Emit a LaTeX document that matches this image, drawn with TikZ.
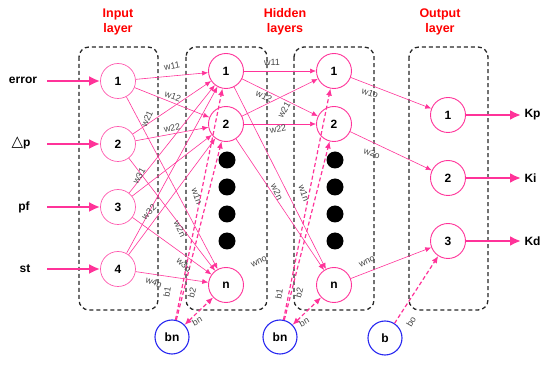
\documentclass[tikz,border=0pt]{standalone}
\usepackage{fontspec}
\setmainfont{Liberation Sans}
\newfontfamily\djv{DejaVu Sans}
\usetikzlibrary{arrows.meta}
\definecolor{pk}{RGB}{255,51,153}
\definecolor{pkl}{RGB}{255,90,175}
\definecolor{bl}{RGB}{40,40,240}
\definecolor{wg}{RGB}{70,70,70}
\begin{document}
\begin{tikzpicture}[x=1pt,y=-1pt,
  neuron/.style={circle,draw=pk,line width=0.9pt,minimum size=35pt,inner sep=0pt,font=\fontsize{12}{12}\selectfont\bfseries},
  inneuron/.style={neuron,draw=pkl,line width=0.7pt},
  bias/.style={circle,draw=bl,line width=1.1pt,minimum size=34pt,inner sep=0pt,font=\fontsize{12}{12}\selectfont\bfseries},
  dot/.style={circle,fill=black,minimum size=17pt,inner sep=0pt},
  layerbox/.style={draw=black!85,dashed,dash pattern=on 4pt off 3pt,line width=1.3pt,rounded corners=10pt},
  title/.style={text=red,font=\fontsize{12.5}{15}\selectfont\bfseries,align=center},
  wedge/.style={draw=pk,line width=0.6pt,-{Latex[length=6pt,width=5pt]}},
  bedge/.style={draw=pk,line width=1.2pt,dashed,dash pattern=on 4pt off 2.5pt,-{Latex[length=7pt,width=6pt]}},
  thick arrow/.style={draw=pk,line width=2.4pt,-{Latex[length=11pt,width=10pt]}},
  wl/.style={text=wg,font=\fontsize{9}{9}\selectfont,inner sep=0pt},
  iolabel/.style={font=\fontsize{12}{12}\selectfont\bfseries}
]
\useasboundingbox (0,0) rectangle (550,366);
% boxes
\draw[layerbox] (79,47) rectangle (158,310);
\draw[layerbox] (186,47) rectangle (267,310);
\draw[layerbox] (294,47) rectangle (374,310);
\draw[layerbox] (409,47) rectangle (488,310);
% titles
\node[title] (tin) at (118,22) {Input\\layer};
\node[title] (thid) at (285,22) {Hidden\\layers};
\node[title] (tout) at (440,22) {Output\\layer};
% input nodes
\node[inneuron] (i1) at (118,81) {1};
\node[inneuron] (i2) at (118,144) {2};
\node[inneuron] (i3) at (118,207) {3};
\node[inneuron] (i4) at (118,269) {4};
% hidden 1
\node[neuron] (a1) at (226,71) {1};
\node[neuron] (a2) at (226,124) {2};
\node[neuron] (an) at (226,285) {n};
\foreach \y/\k in {160/1,187/2,214/3,241/4} \node[dot] (ad\k) at (227,\y) {};
% hidden 2
\node[neuron] (h1) at (334,71) {1};
\node[neuron] (h2) at (334,124) {2};
\node[neuron] (hn) at (334,285) {n};
\foreach \y/\k in {160/1,187/2,214/3,241/4} \node[dot] (hd\k) at (335,\y) {};
% output
\node[neuron] (o1) at (448,115) {1};
\node[neuron] (o2) at (448,178) {2};
\node[neuron] (o3) at (448,241) {3};
% bias
\node[bias] (b1n) at (172,337) {bn};
\node[bias] (b2n) at (280,337) {bn};
\node[bias] (bo) at (385,338) {b};
% input labels and arrows
\node[iolabel] (lerr) at (23,80) {error};
\node[iolabel] (ldp) at (21,143) {{\djv\bfseries\fontsize{15}{15}\selectfont △}p};
\node[iolabel] (lpf) at (24,207) {pf};
\node[iolabel] (lst) at (25,269) {st};
\coordinate (s1) at (47,81);
\coordinate (s2) at (47,144);
\coordinate (s3) at (47,207);
\coordinate (s4) at (47,269);
\draw[thick arrow] (s1) -- (i1);
\draw[thick arrow] (s2) -- (i2);
\draw[thick arrow] (s3) -- (i3);
\draw[thick arrow] (s4) -- (i4);
% output arrows
\node[iolabel,anchor=west] (kp) at (521,115) {Kp};
\node[iolabel,anchor=west] (ki) at (521,178) {Ki};
\node[iolabel,anchor=west] (kd) at (521,241) {Kd};
\draw[thick arrow] (o1) -- (kp.west);
\draw[thick arrow] (o2) -- (ki.west);
\draw[thick arrow] (o3) -- (kd.west);
% input -> hidden1
\foreach \s in {i1,i2,i3,i4}{
  \draw[wedge] (\s) -- (a1);
  \draw[wedge] (\s) -- (a2);
  \draw[wedge] (\s) -- (an);
}
% hidden1 -> hidden2
\draw[wedge] (a1) -- (h1);
\draw[wedge] (a1) -- (h2);
\draw[wedge] (a2) -- (h1);
\draw[wedge] (a2) -- (h2);
\draw[wedge] (a1) -- (hn);
\draw[wedge] (a2) -- (hn);
% hidden2 -> output
\draw[wedge] (h1) -- (o1);
\draw[wedge] (h2) -- (o2);
\draw[wedge] (hn) -- (o3);
% bias edges
\draw[bedge] (b1n) -- (a1);
\draw[bedge] (b1n) -- (a2);
\draw[bedge,{Latex[length=7pt,width=6pt]}-{Latex[length=7pt,width=6pt]}] (b1n) -- (an);
\draw[bedge] (b2n) -- (h1);
\draw[bedge] (b2n) -- (h2);
\draw[bedge,{Latex[length=7pt,width=6pt]}-{Latex[length=7pt,width=6pt]}] (b2n) -- (hn);
\draw[bedge] (bo) -- (o3);
% weight labels, layer 1
\node[wl,rotate=10] (l1) at (172,66) {w11};
\node[wl,rotate=-20] (l2) at (173,96) {w12};
\node[wl,rotate=65] (l3) at (147,119) {w21};
\node[wl,rotate=12] (l4) at (172,128) {w22};
\node[wl,rotate=60] (l5) at (139,176) {w31};
\node[wl,rotate=45] (l6) at (149,212) {w32};
\node[wl,rotate=-70] (l7) at (197,196) {w1n};
\node[wl,rotate=-65] (l8) at (180,229) {w2n};
\node[wl,rotate=-45] (l9) at (184,265) {w3n};
\node[wl,rotate=-20] (l10) at (154,282) {w4n};
\node[wl,rotate=80] (l11) at (167,292) {b1};
\node[wl,rotate=75] (l12) at (192,293) {b2};
\node[wl,rotate=30] (l13) at (197,321) {bn};
\node[wl,rotate=25] (l14) at (259,262) {wno};
% layer 2
\node[wl] (m1) at (272,62) {w11};
\node[wl,rotate=-25] (m2) at (264,96) {w12};
\node[wl,rotate=60] (m3) at (284,110) {w21};
\node[wl,rotate=10] (m4) at (278,129) {w22};
\node[wl,rotate=-65] (m5) at (277,192) {w2n};
\node[wl,rotate=-70] (m6) at (304,193) {w1n};
\node[wl,rotate=80] (m7) at (279,294) {b1};
\node[wl,rotate=75] (m8) at (299,293) {b2};
\node[wl,rotate=30] (m9) at (304,322) {bn};
% output weights
\node[wl,rotate=-20] (n1) at (370,93) {w1o};
\node[wl,rotate=-20] (n2) at (372,153) {w2o};
\node[wl,rotate=25] (n3) at (367,262) {wno};
\node[wl,rotate=60] (n4) at (411,322) {bo};
\end{tikzpicture}
\end{document}
